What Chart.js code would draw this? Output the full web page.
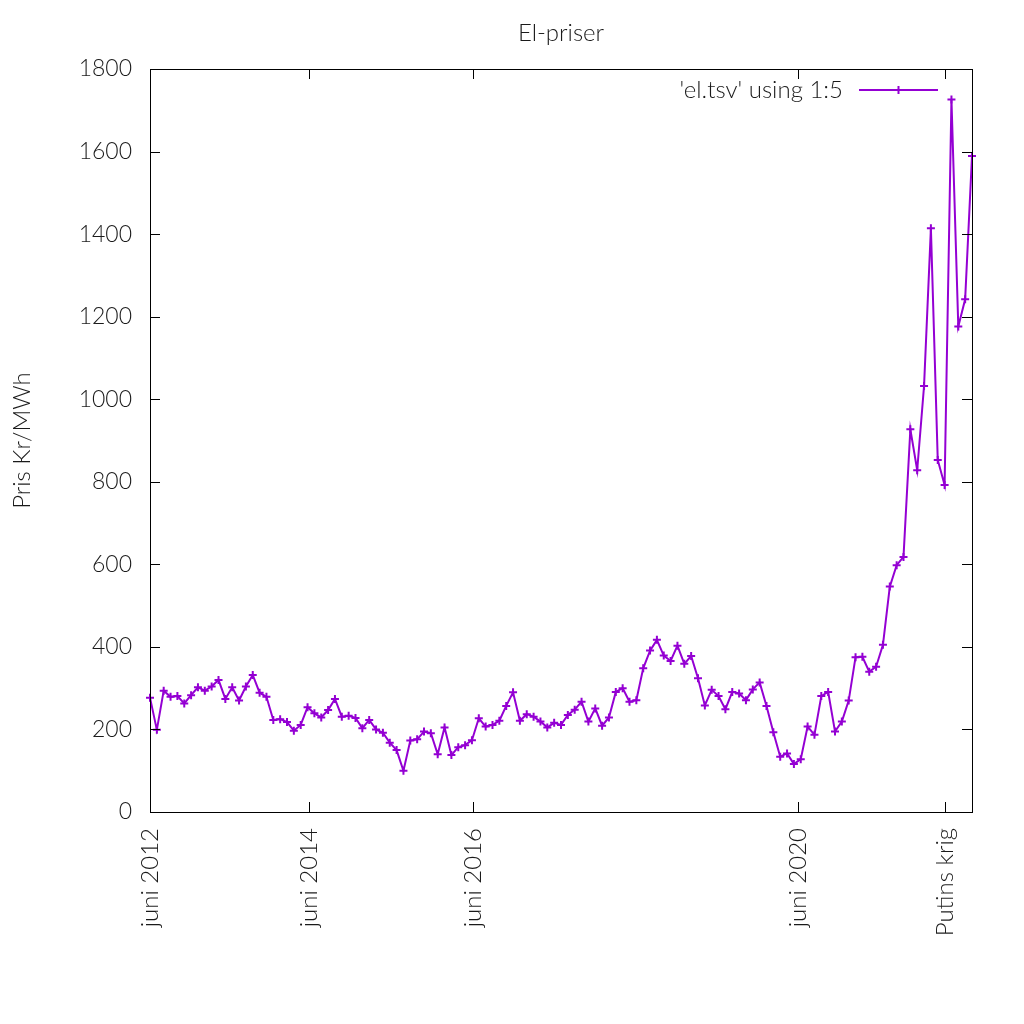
<!DOCTYPE html>
<html>
<head>
<meta charset="utf-8">
<title>El-priser</title>
<script src="https://cdn.jsdelivr.net/npm/chart.js@4.4.1/dist/chart.umd.min.js"></script>
<style>
  html, body { margin: 0; padding: 0; background: #fff; }
  #wrap { width: 1024px; height: 1024px; }
</style>
</head>
<body>
<div id="wrap"><canvas id="chart" width="1024" height="1024"></canvas></div>
<script>
// monthly prices (Kr/MWh)
const prices = [
    277, 199, 294, 279, 281, 263, 283, 302, 294, 304,
    320, 274, 302, 270, 304, 332, 289, 279, 223, 225,
    218, 197, 211, 254, 239, 229, 247, 274, 231, 233,
    228, 203, 223, 200, 192, 168, 150, 100, 173, 176,
    195, 191, 140, 205, 138, 157, 162, 174, 227, 207,
    211, 221, 257, 290, 221, 237, 231, 219, 205, 216,
    211, 235, 248, 267, 219, 251, 209, 229, 291, 300,
    267, 271, 348, 391, 417, 379, 366, 403, 359, 378,
    324, 258, 296, 281, 249, 291, 287, 271, 297, 314,
    257, 193, 134, 142, 116, 128, 207, 187, 281, 291,
    195, 219, 270, 375, 376, 340, 352, 405, 546, 598,
    618, 927, 828, 1032, 1414, 853, 792, 1726, 1176, 1242, 1589
];

// x tick marks (in data-row units) and their labels
const xTickPos = [0, 23.2, 47.2, 94.6, 116.1];
const xTickLabels = ['juni 2012', 'juni 2014', 'juni 2016', 'juni 2020', 'Putins krig'];

const yTicks = [0, 200, 400, 600, 800, 1000, 1200, 1400, 1600, 1800];

const titleText = 'El-priser';
const yLabel = 'Pris Kr/MWh';
const seriesLabel = "'el.tsv' using 1:5";

const lineColor = '#9400d3';
const textColor = '#1a1a1a';
const fontFamily = 'Lato, "Open Sans", sans-serif';

// gnuplot look: box border, inward ticks on all four sides, title and key
const gnuplotFrame = {
    id: 'gnuplotFrame',
    afterDraw(chart) {
        const ctx = chart.ctx;
        const area = chart.chartArea;
        const xs = chart.scales.x;
        const ys = chart.scales.y;
        const tick = 10;

        ctx.save();
        ctx.strokeStyle = '#000';
        ctx.lineWidth = 1;
        ctx.strokeRect(area.left + 0.5, area.top + 0.5, area.right - area.left, area.bottom - area.top);

        ctx.beginPath();
        yTicks.forEach(v => {
            const py = Math.round(ys.getPixelForValue(v)) + 0.5;
            ctx.moveTo(area.left, py); ctx.lineTo(area.left + tick, py);
            ctx.moveTo(area.right, py); ctx.lineTo(area.right - tick, py);
        });
        xTickPos.forEach(v => {
            const px = Math.round(xs.getPixelForValue(v)) + 0.5;
            ctx.moveTo(px, area.bottom); ctx.lineTo(px, area.bottom - tick);
            ctx.moveTo(px, area.top); ctx.lineTo(px, area.top + tick);
        });
        ctx.stroke();

        // title
        ctx.fillStyle = textColor;
        ctx.font = '300 24px ' + fontFamily;
        ctx.textAlign = 'center';
        ctx.textBaseline = 'middle';
        ctx.fillText(titleText, (area.left + area.right) / 2, 33);

        // key, top right inside the plot
        const ky = area.top + 21;
        const kx1 = area.right - 113;
        const kx2 = area.right - 34;
        ctx.textAlign = 'right';
        ctx.fillText(seriesLabel, kx1 - 16, ky);
        ctx.strokeStyle = lineColor;
        ctx.lineWidth = 2;
        ctx.beginPath();
        ctx.moveTo(kx1, ky); ctx.lineTo(kx2, ky);
        const kc = (kx1 + kx2) / 2;
        ctx.moveTo(kc, ky - 4); ctx.lineTo(kc, ky + 4);
        ctx.stroke();
        ctx.restore();
    }
};

new Chart(document.getElementById('chart'), {
    type: 'scatter',
    data: {
        datasets: [{
            label: seriesLabel,
            data: prices.map((v, i) => ({ x: i, y: v })),
            showLine: true,
            borderColor: lineColor,
            backgroundColor: lineColor,
            borderWidth: 2,
            tension: 0,
            pointStyle: 'cross',
            pointRadius: 4,
            pointBorderWidth: 2,
            pointBorderColor: lineColor,
            clip: false
        }]
    },
    options: {
        responsive: false,
        animation: false,
        devicePixelRatio: 1,
        layout: { padding: { top: 69, right: 52, left: 0, bottom: 0 } },
        plugins: {
            legend: { display: false },
            title: { display: false },
            tooltip: { enabled: false }
        },
        scales: {
            x: {
                type: 'linear',
                min: 0,
                max: prices.length - 1,
                grid: { display: false, drawTicks: false },
                border: { display: false },
                afterBuildTicks: s => { s.ticks = xTickPos.map(v => ({ value: v })); },
                afterFit: s => { s.height = 212; },
                ticks: {
                    autoSkip: false,
                    minRotation: 90,
                    maxRotation: 90,
                    padding: 16,
                    color: textColor,
                    font: { family: fontFamily, size: 24, weight: '300' },
                    callback: (v, i) => xTickLabels[i]
                }
            },
            y: {
                min: 0,
                max: 1800,
                grid: { display: false, drawTicks: false },
                border: { display: false },
                afterBuildTicks: s => { s.ticks = yTicks.map(v => ({ value: v })); },
                afterFit: s => { s.width = 150; },
                ticks: {
                    padding: 18,
                    color: textColor,
                    font: { family: fontFamily, size: 23, weight: '300' },
                    callback: v => String(v)
                },
                title: {
                    display: true,
                    text: yLabel,
                    color: textColor,
                    font: { family: fontFamily, size: 24, weight: '300' },
                    padding: { top: 8, bottom: 0 }
                }
            }
        }
    },
    plugins: [gnuplotFrame]
});
</script>
</body>
</html>
